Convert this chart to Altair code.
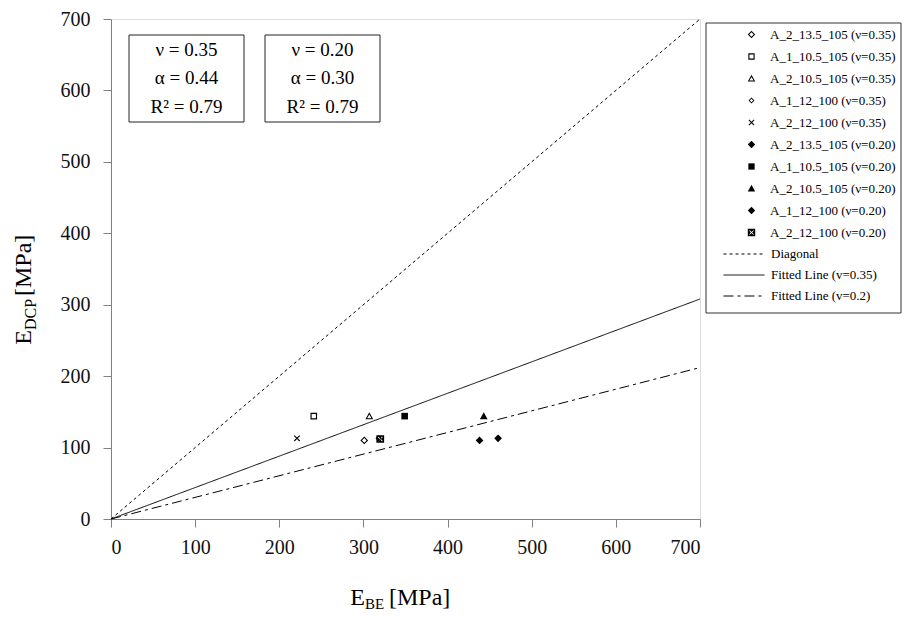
import altair as alt
import pandas as pd

# ---------------- data ----------------
series_names = [
    "A_2_13.5_105 (ν=0.35)",
    "A_1_10.5_105 (ν=0.35)",
    "A_2_10.5_105 (ν=0.35)",
    "A_1_12_100 (ν=0.35)",
    "A_2_12_100 (ν=0.35)",
    "A_2_13.5_105 (ν=0.20)",
    "A_1_10.5_105 (ν=0.20)",
    "A_2_10.5_105 (ν=0.20)",
    "A_1_12_100 (ν=0.20)",
    "A_2_12_100 (ν=0.20)",
]
e_be = [301, 241, 307, 318, 221, 438, 349, 443, 460, 320]
e_dcp = [110, 144, 144, 113, 113, 110, 144, 144, 113, 112]

line_names = ["Diagonal", "Fitted Line (v=0.35)", "Fitted Line (v=0.2)"]
line_start_x = [0, 0, 0]
line_start_y = [0, 0, 0]
line_end_x = [700, 700, 700]
line_end_y = [700, 308, 212]

box1_lines = ["ν = 0.35", "α = 0.44", "R² = 0.79"]
box2_lines = ["ν = 0.20", "α = 0.30", "R² = 0.79"]

axis_ticks = [0, 100, 200, 300, 400, 500, 600, 700]

# ---------------- styles ----------------
FONT = "Liberation Serif"
GRAY = "#808080"


def poly(points, scale=1.0, reverse=False):
    pts = list(reversed(points)) if reverse else points
    return "M" + "L".join(f"{x*scale:.3f},{y*scale:.3f}" for x, y in pts) + "Z"


diamond = [(0, -1), (1, 0), (0, 1), (-1, 0)]
square = [(-1, -1), (1, -1), (1, 1), (-1, 1)]
triangle = [(0, -1), (1, 0.8), (-1, 0.8)]
cross = [(-1, -0.75), (-0.75, -1), (0, -0.25), (0.75, -1), (1, -0.75), (0.25, 0),
         (1, 0.75), (0.75, 1), (0, 0.25), (-0.75, 1), (-1, 0.75), (-0.25, 0)]

shape_paths = [
    poly(diamond) + poly(diamond, 0.6, True),                    # open diamond
    poly(square, 0.85) + poly(square, 0.55, True),               # open square
    poly(triangle) + " " + "M0,-0.40L-0.56,0.54L0.56,0.54Z",     # open triangle
    poly(diamond, 0.8) + poly(diamond, 0.45, True),              # small open diamond
    poly(cross, 0.8),                                            # x
    poly(diamond),                                               # filled diamond
    poly(square, 0.85),                                          # filled square
    poly(triangle),                                              # filled triangle
    poly(diamond),                                               # filled diamond
    poly(square) + poly(cross, 0.62, True),                      # square with x
]
dash_styles = [[3, 3], [1, 0], [10, 4, 3, 4]]

# ---------------- tables ----------------
pts_df = pd.DataFrame({"x": e_be, "y": e_dcp, "series": series_names})
rows = []
for name, x0, y0, x1, y1 in zip(line_names, line_start_x, line_start_y, line_end_x, line_end_y):
    rows.append({"x": x0, "y": y0, "line": name})
    rows.append({"x": x1, "y": y1, "line": name})
lines_df = pd.DataFrame(rows)
one = pd.DataFrame({"k": [0]})

axis_common = dict(
    values=axis_ticks, title=None, grid=False, tickSize=8, tickColor=GRAY,
    domainColor=GRAY, labelFont=FONT, labelFontSize=20, labelColor="#111111",
    format="d",
)
x_enc = alt.X("x:Q", scale=alt.Scale(domain=[0, 700], nice=False),
              axis=alt.Axis(labelPadding=10, **axis_common))
y_enc = alt.Y("y:Q", scale=alt.Scale(domain=[0, 700], nice=False),
              axis=alt.Axis(labelPadding=13, **axis_common))

lines = alt.Chart(lines_df).mark_line(color="black", strokeWidth=1).encode(
    x=x_enc, y=y_enc,
    strokeDash=alt.StrokeDash(
        "line:N",
        scale=alt.Scale(domain=line_names, range=dash_styles),
        legend=alt.Legend(
            title=None, orient="none", legendX=622, legendY=224, padding=0,
            symbolType="M-2,0L2,0", symbolSize=420, symbolStrokeColor="black",
            symbolStrokeWidth=1, labelFont=FONT, labelFontSize=13,
            labelColor="black", labelOffset=16, rowPadding=3,
        ),
    ),
)

points = alt.Chart(pts_df).mark_point(filled=True, color="black", strokeWidth=0, size=60, opacity=1).encode(
    x=x_enc, y=y_enc,
    shape=alt.Shape(
        "series:N",
        scale=alt.Scale(domain=series_names, range=shape_paths),
        legend=alt.Legend(
            title=None, orient="none", legendX=634, legendY=9, padding=0,
            symbolSize=55, symbolFillColor="black", symbolStrokeWidth=0,
            symbolOpacity=1,
            labelFont=FONT, labelFontSize=13, labelColor="black",
            labelOffset=12, rowPadding=8,
        ),
    ),
)

layers = [lines, points]

# annotation boxes (pixel layout)
box_left = [18, 154]
box_right = [133, 269]
box_top, box_bottom = 16, 103
text_rows_y = [31, 59, 88]
for bl, br, texts in zip(box_left, box_right, [box1_lines, box2_lines]):
    layers.append(alt.Chart(one).mark_rect(filled=False, stroke="#222222", strokeWidth=1).encode(
        x=alt.value(bl), x2=alt.value(br), y=alt.value(box_top), y2=alt.value(box_bottom)))
    for t, ty in zip(texts, text_rows_y):
        layers.append(alt.Chart(one).mark_text(
            text=t, font=FONT, fontSize=19, color="black", align="center", baseline="middle"
        ).encode(x=alt.value((bl + br) / 2), y=alt.value(ty)))

# legend frame
layers.append(alt.Chart(one).mark_rect(filled=False, stroke="#333333", strokeWidth=1).encode(
    x=alt.value(595), x2=alt.value(790), y=alt.value(4), y2=alt.value(294)))


# axis titles with subscripts
def seg(text, size, x, y, align, angle=0):
    kw = dict(text=text, font=FONT, fontSize=size, color="black", align=align, baseline="alphabetic")
    if angle:
        kw["angle"] = angle
    return alt.Chart(one).mark_text(**kw).encode(x=alt.value(x), y=alt.value(y))


# x title
layers.append(seg("E", 24, 254, 586, "right"))
layers.append(seg("BE", 15, 254, 590, "left"))
layers.append(seg("[MPa]", 24, 278, 586, "left"))
# y title (rotated)
layers.append(seg("E", 24, -80, 311, "right", 270))
layers.append(seg("DCP", 16, -75, 311, "left", 270))
layers.append(seg("[MPa]", 24, -80, 277, "left", 270))

chart = alt.layer(*layers).properties(
    width=589, height=500,
    autosize=alt.AutoSizeParams(type="none"),
    padding={"left": 103, "top": 11, "right": 202, "bottom": 94},
).configure_view(stroke="#999999", strokeWidth=1).configure(background="white")

chart.save("out.html", embed_options={"renderer": "svg", "actions": False})
